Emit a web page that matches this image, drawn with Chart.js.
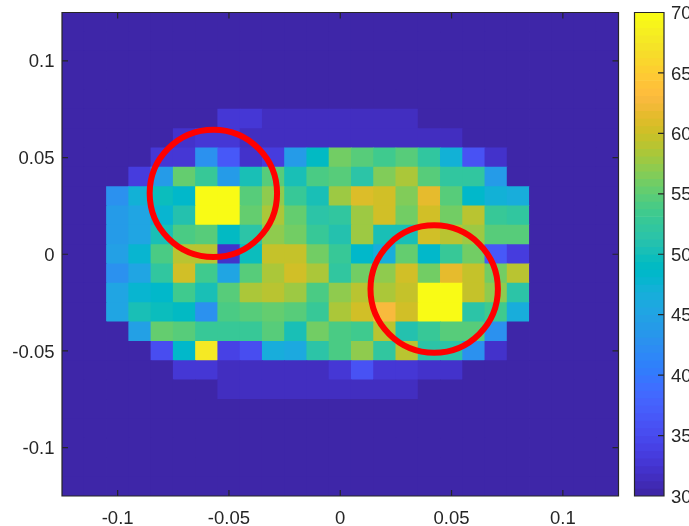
<!DOCTYPE html>
<html>
<head>
<meta charset="utf-8">
<title>Heat map</title>
<script src="https://cdn.jsdelivr.net/npm/chart.js@4.4.0/dist/chart.umd.js"></script>
<style>
  html, body { margin: 0; padding: 0; background: #fff; }
  #wrap { position: relative; width: 689px; height: 526px; overflow: hidden; }
  canvas { position: absolute; left: 0; top: 0; }
</style>
</head>
<body>
<div id="wrap">
  <canvas id="map" width="689" height="526"></canvas>
  <canvas id="bar" width="689" height="526"></canvas>
</div>
<script>
// cell centres along x, cell edges along y (top to bottom)
const xCenters = [-0.12, -0.11, -0.10, -0.09, -0.08, -0.07, -0.06, -0.05, -0.04, -0.03, -0.02, -0.01, 0, 0.01, 0.02, 0.03, 0.04, 0.05, 0.06, 0.07, 0.08, 0.09, 0.10, 0.11, 0.12];
const yEdges = [0.125, 0.115, 0.105, 0.095, 0.085, 0.075, 0.065, 0.055, 0.045, 0.035, 0.025, 0.015, 0.005, -0.005, -0.015, -0.025, -0.035, -0.045, -0.055, -0.065, -0.075, -0.085, -0.095, -0.105, -0.115, -0.125];

const xTickValues = [-0.1, -0.05, 0, 0.05, 0.1];
const xTickLabels = ['-0.1', '-0.05', '0', '0.05', '0.1'];
const yTickValues = [-0.1, -0.05, 0, 0.05, 0.1];
const yTickLabels = ['-0.1', '-0.05', '0', '0.05', '0.1'];
const barTickValues = [30, 35, 40, 45, 50, 55, 60, 65, 70];

// one row per line, top row first
const cellValues = [
  [30,30,30,30,30,30,30,30,30,30,30,30,30,30,30,30,30,30,30,30,30,30,30,30,30],
  [30,30,30,30,30,30,30,30,30,30,30,30,30,30,30,30,30,30,30,30,30,30,30,30,30],
  [30,30,30,30,30,30,30,30,30,30,30,30,30,30,30,30,30,30,30,30,30,30,30,30,30],
  [30,30,30,30,30,30,30,30,30,30,30,30,30,30,30,30,30,30,30,30,30,30,30,30,30],
  [30,30,30,30,30,30,30,30,30,30,30,30,30,30,30,30,30,30,30,30,30,30,30,30,30],
  [30,30,30,30,30,30,30,32.5,32.5,31.5,31.5,31.5,31.5,31.5,31.5,31.5,30,30,30,30,30,30,30,30,30],
  [30,30,30,30,30,32,33,33,31.5,31.5,31.5,31.5,31.5,31.5,31.5,31.5,31.5,31.5,30,30,30,30,30,30,30],
  [30,30,30,30,32.5,33,42.5,36.5,32,33.5,44,49.2,56,54.7,53.5,54.4,52,47,36,32,30,30,30,30,30],
  [30,30,30,33.5,44,55.2,53,43.75,50,54.4,50,54,54.4,51.5,56.4,58.3,54.7,52,52,44,30,30,30,30,30],
  [30,30,43,47,49.7,48.3,70,70,54.7,57,52.5,50.5,58,61,60.6,56.4,61.5,54.4,48.7,47,46.5,30,30,30,30],
  [30,30,43.75,45.5,47.5,51,70,70,55.2,58.6,55.2,51.5,52,57.5,60.3,55.7,60,55.7,59,53,52,30,30,30,30],
  [30,30,43.75,45.5,50,54,54.4,49.2,51.5,57,55.7,52.5,51,57.5,50,50,60.3,59.3,58,54.7,54.7,30,30,30,30],
  [30,30,44.4,48,54,59.3,59,32,49.7,59.7,59.7,55.7,53,48.7,46.5,55.2,48.7,53,55.7,36.5,33.5,30,30,30,30],
  [30,30,43,45,52,60.3,53.5,45,54.4,58.6,60.3,58.6,52,55.7,57,60.3,55.7,61.5,59.7,55.7,59,30,30,30,30],
  [30,30,45,48,48.7,53.5,50.5,54.4,58.6,59.3,57.5,54,57,59,58.6,59.5,70,70,59.7,57,51.5,30,30,30,30],
  [30,30,45,50,49.7,49.2,42.5,54,54.7,55.2,54.4,52.5,58.6,60.3,63,60.6,70,70,51.5,53.5,46.5,30,30,30,30],
  [30,30,30,44.4,55.2,54.7,52.5,52.5,53,54.4,50,55.7,54,53.5,59.3,51,52.5,54.7,54.7,42.5,30,30,30,30,30],
  [30,30,30,30,35,48.7,67.5,34,35.5,46.5,46,51.5,54,57,52,59,51.5,51.5,42.5,32,30,30,30,30,30],
  [30,30,30,30,30,32.5,33,31.5,31.5,31.5,31.5,31.5,33,36,33,33,32,32,30,30,30,30,30,30,30],
  [30,30,30,30,30,30,30,31.5,31.5,31.5,31.5,31.5,31.5,31.5,31.5,31.5,30,30,30,30,30,30,30,30,30],
  [30,30,30,30,30,30,30,30,30,30,30,30,30,30,30,30,30,30,30,30,30,30,30,30,30],
  [30,30,30,30,30,30,30,30,30,30,30,30,30,30,30,30,30,30,30,30,30,30,30,30,30],
  [30,30,30,30,30,30,30,30,30,30,30,30,30,30,30,30,30,30,30,30,30,30,30,30,30],
  [30,30,30,30,30,30,30,30,30,30,30,30,30,30,30,30,30,30,30,30,30,30,30,30,30],
  [30,30,30,30,30,30,30,30,30,30,30,30,30,30,30,30,30,30,30,30,30,30,30,30,30]
];

// the two red rings
const ringX = [-0.057, 0.0422];
const ringY = [0.0315, -0.018];

// colorbar steps
const barLevels = [30.31,30.94,31.56,32.19,32.81,33.44,34.06,34.69,35.31,35.94,36.56,37.19,37.81,38.44,39.06,39.69,40.31,40.94,41.56,42.19,42.81,43.44,44.06,44.69,45.31,45.94,46.56,47.19,47.81,48.44,49.06,49.69,50.31,50.94,51.56,52.19,52.81,53.44,54.06,54.69,55.31,55.94,56.56,57.19,57.81,58.44,59.06,59.69,60.31,60.94,61.56,62.19,62.81,63.44,64.06,64.69,65.31,65.94,66.56,67.19,67.81,68.44,69.06,69.69];

// parula, 64 steps
const parula = [
  [.2422,.1504,.6603],[.2504,.1650,.7076],[.2578,.1818,.7511],[.2647,.1978,.7952],
  [.2706,.2147,.8364],[.2751,.2342,.8710],[.2783,.2559,.8991],[.2803,.2782,.9221],
  [.2813,.3006,.9414],[.2810,.3228,.9579],[.2795,.3447,.9717],[.2760,.3667,.9829],
  [.2699,.3892,.9906],[.2602,.4123,.9952],[.2440,.4358,.9988],[.2206,.4603,.9973],
  [.1963,.4847,.9892],[.1834,.5074,.9798],[.1786,.5289,.9682],[.1764,.5499,.9520],
  [.1687,.5703,.9359],[.1540,.5902,.9218],[.1460,.6091,.9079],[.1380,.6276,.8973],
  [.1248,.6459,.8883],[.1113,.6635,.8763],[.0952,.6798,.8598],[.0689,.6948,.8394],
  [.0297,.7082,.8163],[.0036,.7203,.7917],[.0067,.7312,.7660],[.0433,.7411,.7394],
  [.0964,.7500,.7120],[.1408,.7584,.6842],[.1717,.7670,.6554],[.1938,.7758,.6251],
  [.2161,.7843,.5923],[.2470,.7918,.5567],[.2906,.7973,.5188],[.3406,.8008,.4789],
  [.3909,.8029,.4354],[.4456,.8024,.3909],[.5044,.7993,.3480],[.5616,.7942,.3045],
  [.6174,.7876,.2612],[.6720,.7793,.2227],[.7242,.7698,.1910],[.7738,.7598,.1646],
  [.8203,.7498,.1535],[.8634,.7406,.1596],[.9035,.7330,.1774],[.9393,.7288,.2100],
  [.9728,.7298,.2394],[.9956,.7434,.2371],[.9970,.7659,.2199],[.9952,.7893,.2028],
  [.9892,.8136,.1885],[.9786,.8386,.1766],[.9676,.8639,.1643],[.9610,.8890,.1537],
  [.9597,.9135,.1423],[.9628,.9373,.1265],[.9691,.9606,.1064],[.9769,.9839,.0805]
];

const colorMin = 30;
const colorMax = 70;
const inkColor = '#262626';
const labelFont = { family: '"Liberation Sans", Arial, sans-serif', size: 18.5 };

function colorFor(value) {
  const step = Math.floor((value - colorMin) / (colorMax - colorMin) * parula.length);
  const c = parula[Math.max(0, Math.min(parula.length - 1, step))];
  return `rgb(${Math.round(c[0] * 255)},${Math.round(c[1] * 255)},${Math.round(c[2] * 255)})`;
}

// the box layout would add room for the outer labels, the frame is placed by hand
function noMargins(axis) {
  axis.paddingLeft = 0;
  axis.paddingRight = 0;
  axis.paddingTop = 0;
  axis.paddingBottom = 0;
}

// Matlab style frame with ticks pointing inward
function framePlugin(xScaleId, yScaleId, xTicks, yTicks, bothSides) {
  return {
    id: 'frame',
    afterDraw(chart) {
      const { ctx, chartArea: a } = chart;
      const len = 6;
      ctx.save();
      ctx.strokeStyle = inkColor;
      ctx.lineWidth = 1.2;
      ctx.beginPath();
      xTicks.forEach(v => {
        const x = chart.scales[xScaleId].getPixelForValue(v);
        ctx.moveTo(x, a.bottom); ctx.lineTo(x, a.bottom - len);
        ctx.moveTo(x, a.top); ctx.lineTo(x, a.top + len);
      });
      yTicks.forEach(v => {
        const y = chart.scales[yScaleId].getPixelForValue(v);
        if (bothSides) { ctx.moveTo(a.left, y); ctx.lineTo(a.left + len, y); }
        ctx.moveTo(a.right, y); ctx.lineTo(a.right - len, y);
      });
      ctx.rect(a.left, a.top, a.right - a.left, a.bottom - a.top);
      ctx.stroke();
      ctx.restore();
    }
  };
}

// flatten the rows into floating bars
const cellData = [];
const cellColors = [];
cellValues.forEach((row, r) => {
  row.forEach((value, c) => {
    cellData.push({ x: xCenters[c], y: [yEdges[r + 1], yEdges[r]] });
    cellColors.push(colorFor(value));
  });
});

Chart.defaults.animation = false;

new Chart(document.getElementById('map'), {
  type: 'bar',
  data: {
    datasets: [{
      type: 'scatter',
      order: 0,
      data: ringX.map((x, i) => ({ x, y: ringY[i] })),
      pointStyle: 'circle',
      pointRadius: 63.7,
      pointBorderWidth: 6,
      pointBorderColor: '#ff0000',
      pointBackgroundColor: 'rgba(0,0,0,0)'
    }, {
      order: 1,
      data: cellData,
      backgroundColor: cellColors,
      borderWidth: 0,
      inflateAmount: 0.4,
      grouped: false,
      barPercentage: 1,
      categoryPercentage: 1
    }]
  },
  options: {
    responsive: false,
    events: [],
    layout: { autoPadding: false, padding: { left: 0, right: 70.5, top: 12.5, bottom: 0 } },
    plugins: { legend: { display: false }, tooltip: { enabled: false } },
    scales: {
      x: {
        type: 'linear',
        offset: false,
        min: -0.125,
        max: 0.125,
        grid: { display: false, drawTicks: false },
        border: { display: false },
        afterBuildTicks: axis => { axis.ticks = xTickValues.map(value => ({ value })); },
        afterFit: axis => { axis.height = 30; noMargins(axis); },
        ticks: {
          color: inkColor,
          font: labelFont,
          padding: 11.5,
          maxRotation: 0,
          autoSkip: false,
          callback: value => xTickLabels[xTickValues.indexOf(value)]
        }
      },
      y: {
        type: 'linear',
        min: -0.125,
        max: 0.125,
        grid: { display: false, drawTicks: false },
        border: { display: false },
        afterBuildTicks: axis => { axis.ticks = yTickValues.map(value => ({ value })); },
        afterFit: axis => { axis.width = 62; noMargins(axis); },
        ticks: {
          color: inkColor,
          font: labelFont,
          padding: 7.5,
          labelOffset: 1.5,
          autoSkip: false,
          callback: value => yTickLabels[yTickValues.indexOf(value)]
        }
      }
    }
  },
  plugins: [framePlugin('x', 'y', xTickValues, yTickValues, true)]
});

new Chart(document.getElementById('bar'), {
  type: 'bar',
  data: {
    datasets: [{
      data: barLevels.map(level => ({ x: [0, 1], y: level })),
      backgroundColor: barLevels.map(colorFor),
      borderWidth: 0,
      inflateAmount: 0.4,
      grouped: false,
      barPercentage: 1,
      categoryPercentage: 1
    }]
  },
  options: {
    indexAxis: 'y',
    responsive: false,
    events: [],
    layout: { autoPadding: false, padding: { left: 634.5, right: 0, top: 12.5, bottom: 30 } },
    plugins: { legend: { display: false }, tooltip: { enabled: false } },
    scales: {
      x: { type: 'linear', display: false, min: 0, max: 1 },
      y: {
        type: 'linear',
        position: 'right',
        offset: false,
        min: colorMin,
        max: colorMax,
        grid: { display: false, drawTicks: false },
        border: { display: false },
        afterBuildTicks: axis => { axis.ticks = barTickValues.map(value => ({ value })); },
        afterFit: axis => { axis.width = 25; noMargins(axis); },
        ticks: {
          color: inkColor,
          font: labelFont,
          padding: 7,
          labelOffset: 1.5,
          autoSkip: false,
          callback: value => String(value)
        }
      }
    }
  },
  plugins: [framePlugin('x', 'y', [], barTickValues, false)]
});
</script>
</body>
</html>
